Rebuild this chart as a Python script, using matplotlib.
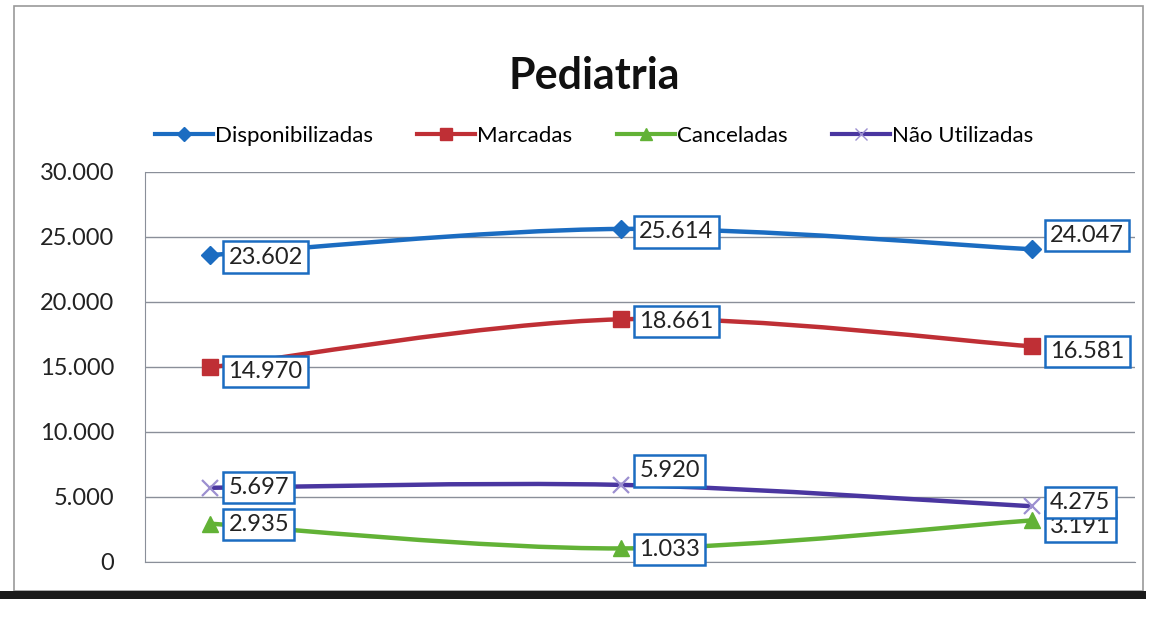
import matplotlib.pyplot as plt
import numpy as np
from matplotlib.path import Path
from matplotlib.patches import PathPatch, Rectangle
from matplotlib.lines import Line2D

plt.rcParams["font.family"] = ["Lato", "DejaVu Sans"]

# data (data labels)
periods = ["P1", "P2", "P3"]
disponibilizadas = [23602, 25614, 24047]
marcadas = [14970, 18661, 16581]
canceladas = [2935, 1033, 3191]
nao_utilizadas = [5697, 5920, 4275]
y_ticks = [0, 5000, 10000, 15000, 20000, 25000, 30000]
y_tick_labels = ["0", "5.000", "10.000", "15.000", "20.000", "25.000", "30.000"]

series = [
    ("Disponibilizadas", disponibilizadas, "#1b6cc1", "D", 9),
    ("Marcadas", marcadas, "#bf2f35", "s", 11),
    ("Canceladas", canceladas, "#62b236", "^", 11),
    ("Não Utilizadas", nao_utilizadas, "#4a36a0", "x", 11),
]
# label offsets in pixels (dx, dy) for each point
label_offsets = {
    "Disponibilizadas": [(18, -2), (18, -3), (18, 14)],
    "Marcadas": [(18, -4), (18, -2), (18, -5)],
    "Canceladas": [(18, -1), (18, -1), (18, -6)],
    "Não Utilizadas": [(18, 0), (18, 14), (18, 4)],
}


def smooth_path(xs, ys):
    # Excel-style smoothed line: cubic Bezier through the points
    pts = np.column_stack([xs, ys]).astype(float)
    n = len(pts)
    verts = [pts[0]]
    codes = [Path.MOVETO]
    for i in range(n - 1):
        p_prev = pts[i - 1] if i > 0 else pts[i]
        p_next2 = pts[i + 2] if i + 2 < n else pts[i + 1]
        c1 = pts[i] + (pts[i + 1] - p_prev) / 6
        c2 = pts[i + 1] - (p_next2 - pts[i]) / 6
        verts += [c1, c2, pts[i + 1]]
        codes += [Path.CURVE4] * 3
    return Path(verts, codes)


fig = plt.figure(figsize=(11.58, 6.32), dpi=100)
fig.patch.set_facecolor("white")

# chart frame like the Excel chart object
fig.add_artist(Rectangle((0.012, 0.065), 0.975, 0.925, transform=fig.transFigure,
                         fill=False, ec="#9a9a9a", lw=1.2))
fig.add_artist(Rectangle((0.0, 0.052), 0.99, 0.013, transform=fig.transFigure,
                         fc="#1a1a1a", ec="none"))

ax = fig.add_axes([0.125, 0.111, 0.855, 0.617])
x = np.arange(len(periods))

handles = []
for name, vals, color, marker, ms in series:
    ax.add_patch(PathPatch(smooth_path(x, vals), fill=False, ec=color, lw=3.2,
                           zorder=3))
    mec = "#9c8fd0" if marker == "x" else color
    ax.plot(x, vals, linestyle="none", marker=marker, ms=ms, color=color,
            mec=mec, mew=1.6 if marker == "x" else 1, zorder=4)
    handles.append(Line2D([], [], color=color, lw=3, marker=marker, ms=ms - 2,
                          mec=mec))

z = 5
for name, vals, color, marker, ms in series:
    for i, v in enumerate(vals):
        dx, dy = label_offsets[name][i]
        ax.annotate(f"{v / 1000:.3f}", (x[i], v), xytext=(dx, dy),
                    textcoords="offset pixels", ha="left", va="center",
                    fontsize=17, color="#222222", zorder=z,
                    bbox=dict(boxstyle="square,pad=0.22", fc="white",
                              ec="#1b6cc1", lw=1.8))
        z += 1

ax.set_xlim(-0.16, 2.25)
ax.set_ylim(0, 30000)
ax.set_yticks(y_ticks)
ax.set_yticklabels(y_tick_labels, fontsize=17, color="#222222")
ax.set_xticks([])
ax.tick_params(axis="y", length=0, pad=22)
ax.yaxis.grid(True, color="#8a8f99", lw=1)
ax.set_axisbelow(True)
for side in ["top", "right"]:
    ax.spines[side].set_visible(False)
for side in ["left", "bottom"]:
    ax.spines[side].set_color("#8a8f99")

fig.text(0.513, 0.88, "Pediatria", ha="center", va="center", fontsize=31,
         fontweight="bold", color="#111111")
fig.legend(handles, [s[0] for s in series], loc="center", ncol=4,
           bbox_to_anchor=(0.513, 0.785), frameon=False, fontsize=16,
           handlelength=2.6, handletextpad=0.1, columnspacing=2.0)

plt.savefig("out.png", dpi=100)
